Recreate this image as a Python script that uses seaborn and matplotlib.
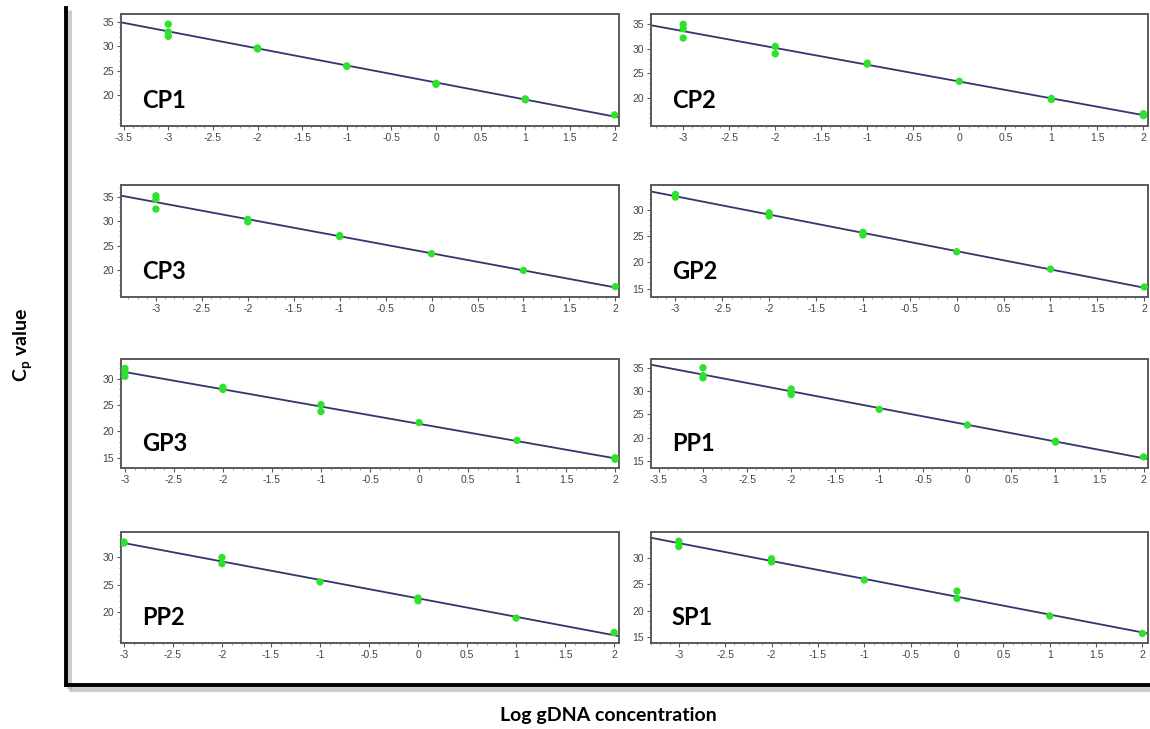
import numpy as np
import pandas as pd
import matplotlib
matplotlib.use("Agg")
import matplotlib.pyplot as plt
from matplotlib.lines import Line2D
from matplotlib.ticker import FuncFormatter, AutoMinorLocator, FixedLocator
import seaborn as sns

# ---------------- data ----------------
panel_names = ["CP1", "CP2", "CP3", "GP2", "GP3", "PP1", "PP2", "SP1"]

cp1_x = [-3, -3, -3, -2, -2, -1, -1, 0, 0, 1, 1, 2]
cp1_y = [34.6, 33.0, 32.1, 29.7, 29.5, 26.0, 25.9, 22.4, 22.2, 19.2, 19.0, 15.9]

cp2_x = [-3, -3, -3, -2, -2, -1, -1, 0, 1, 1, 2, 2]
cp2_y = [35.0, 34.1, 32.2, 30.5, 29.0, 27.1, 26.9, 23.4, 19.9, 19.7, 16.8, 16.4]

cp3_x = [-3, -3, -3, -2, -2, -1, -1, 0, 1, 2]
cp3_y = [35.2, 34.5, 32.5, 30.4, 29.9, 27.1, 26.9, 23.4, 20.0, 16.7]

gp2_x = [-3, -3, -2, -2, -1, -1, 0, 1, 2]
gp2_y = [32.9, 32.4, 29.4, 28.8, 25.7, 25.2, 22.0, 18.7, 15.3]

gp3_x = [-3, -3, -3, -2, -2, -1, -1, 0, 1, 2, 2]
gp3_y = [32.0, 31.4, 30.5, 28.4, 28.0, 25.1, 23.8, 21.7, 18.3, 15.0, 14.7]

pp1_x = [-3, -3, -3, -2, -2, -2, -1, 0, 1, 1, 2]
pp1_y = [35.1, 33.4, 32.9, 30.5, 29.8, 29.3, 26.1, 22.7, 19.2, 19.0, 15.8]

pp2_x = [-3, -3, -2, -2, -1, 0, 0, 1, 2]
pp2_y = [32.7, 32.5, 29.9, 28.8, 25.5, 22.6, 22.1, 19.0, 16.4]

sp1_x = [-3, -3, -2, -2, -1, 0, 0, 1, 2]
sp1_y = [33.1, 32.1, 29.8, 29.2, 25.8, 23.7, 22.3, 19.0, 15.7]

xticks_wide = [-3.5, -3, -2.5, -2, -1.5, -1, -0.5, 0, 0.5, 1, 1.5, 2]
xticks_std = [-3, -2.5, -2, -1.5, -1, -0.5, 0, 0.5, 1, 1.5, 2]
yticks_20_35 = [20, 25, 30, 35]
yticks_15_30 = [15, 20, 25, 30]
yticks_15_35 = [15, 20, 25, 30, 35]
yticks_20_30 = [20, 25, 30]

x_label = "Log gDNA concentration"
y_label = r"C$_\mathbf{p}$ value"

panels = [
    dict(name="CP1", x=cp1_x, y=cp1_y, xlim=(-3.53, 2.05), ylim=(13.6, 36.7), xt=xticks_wide, yt=yticks_20_35),
    dict(name="CP2", x=cp2_x, y=cp2_y, xlim=(-3.35, 2.05), ylim=(14.3, 37.1), xt=xticks_std, yt=yticks_20_35),
    dict(name="CP3", x=cp3_x, y=cp3_y, xlim=(-3.38, 2.04), ylim=(14.6, 37.4), xt=xticks_std, yt=yticks_20_35),
    dict(name="GP2", x=gp2_x, y=gp2_y, xlim=(-3.26, 2.04), ylim=(13.4, 34.7), xt=xticks_std, yt=yticks_15_30),
    dict(name="GP3", x=gp3_x, y=gp3_y, xlim=(-3.04, 2.04), ylim=(13.05, 33.8), xt=xticks_std, yt=yticks_15_30),
    dict(name="PP1", x=pp1_x, y=pp1_y, xlim=(-3.59, 2.05), ylim=(13.4, 37.0), xt=xticks_wide, yt=yticks_15_35),
    dict(name="PP2", x=pp2_x, y=pp2_y, xlim=(-3.03, 2.05), ylim=(14.5, 34.5), xt=xticks_std, yt=yticks_20_30),
    dict(name="SP1", x=sp1_x, y=sp1_y, xlim=(-3.30, 2.06), ylim=(13.9, 34.85), xt=xticks_std, yt=yticks_15_30),
]

# ---------------- style ----------------
sns.set_theme(style="white")
plt.rcParams["font.family"] = ["Liberation Sans", "DejaVu Sans"]
plt.rcParams["axes.unicode_minus"] = False
plt.rcParams["mathtext.fontset"] = "custom"
plt.rcParams["mathtext.rm"] = "Lato:bold"
plt.rcParams["mathtext.bf"] = "Lato:bold"

W, H = 1150, 729
fig = plt.figure(figsize=(W / 100, H / 100), dpi=100)
fig.patch.set_facecolor("white")

col_lr = [(121, 619), (651, 1148)]
row_tb = [(14, 126), (185, 297), (359, 468), (532, 643)]

POINT_COLOR = "#2fe12f"
LINE_COLOR = "#34346e"
SPINE_COLOR = "#5a5a5a"

fmt = FuncFormatter(lambda v, p: "%g" % v)

for i, pdef in enumerate(panels):
    r, c = divmod(i, 2)
    l, rr = col_lr[c]
    t, b = row_tb[r]
    ax = fig.add_axes([l / W, 1 - b / H, (rr - l) / W, (b - t) / H])
    ax.set_xlim(*pdef["xlim"])
    ax.set_ylim(*pdef["ylim"])
    df = pd.DataFrame({"x": pdef["x"], "y": pdef["y"]})
    sns.regplot(data=df, x="x", y="y", ax=ax, scatter=False, ci=None,
                truncate=False, line_kws=dict(color=LINE_COLOR, lw=1.3))
    sns.scatterplot(data=df, x="x", y="y", ax=ax, color=POINT_COLOR, s=28,
                    edgecolor="none", zorder=3)
    ax.set_xlim(*pdef["xlim"])
    ax.set_ylim(*pdef["ylim"])
    ax.xaxis.set_major_locator(FixedLocator(pdef["xt"]))
    ax.yaxis.set_major_locator(FixedLocator(pdef["yt"]))
    ax.xaxis.set_major_formatter(fmt)
    ax.yaxis.set_major_formatter(fmt)
    ax.xaxis.set_minor_locator(AutoMinorLocator(5))
    ax.yaxis.set_minor_locator(AutoMinorLocator(5))
    ax.set_xlabel("")
    ax.set_ylabel("")
    for sp in ax.spines.values():
        sp.set_color(SPINE_COLOR)
        sp.set_linewidth(1.4)
        sp.set_visible(True)
    ax.tick_params(axis="both", which="major", direction="out", length=3,
                   width=0.8, color=SPINE_COLOR, labelsize=7.5,
                   labelcolor="#444444", pad=2, bottom=True, left=True)
    ax.tick_params(axis="both", which="minor", direction="out", length=1.5,
                   width=0.6, color="#888888", bottom=True, left=True)
    ax.text(0.042, 0.16, pdef["name"], transform=ax.transAxes,
            fontsize=17, fontweight="bold", family="Lato", color="black",
            ha="left", va="baseline")

# big L-shaped frame with shadow
shadow_kw = dict(color="#9a9a9a", lw=3.5, alpha=0.5, solid_capstyle="butt")
fig.add_artist(Line2D([69 / W, 69 / W], [1 - 10 / H, 1 - 689 / H], transform=fig.transFigure, **shadow_kw))
fig.add_artist(Line2D([69 / W, 1150 / W], [1 - 689 / H, 1 - 689 / H], transform=fig.transFigure, **shadow_kw))
frame_kw = dict(color="black", lw=2.8, solid_capstyle="projecting")
fig.add_artist(Line2D([66 / W, 66 / W], [1 - 8 / H, 1 - 685 / H], transform=fig.transFigure, **frame_kw))
fig.add_artist(Line2D([66 / W, 1150 / W], [1 - 685 / H, 1 - 685 / H], transform=fig.transFigure, **frame_kw))

fig.text(608 / W, 1 - 716 / H, x_label, ha="center", va="center",
         fontsize=14, fontweight="bold", family="Lato", color="black")
fig.text(23 / W, 1 - 345 / H, y_label, ha="center", va="center",
         rotation=90, fontsize=14, fontweight="bold", family="Lato", color="black")

fig.savefig("out.png", dpi=100, facecolor="white")
